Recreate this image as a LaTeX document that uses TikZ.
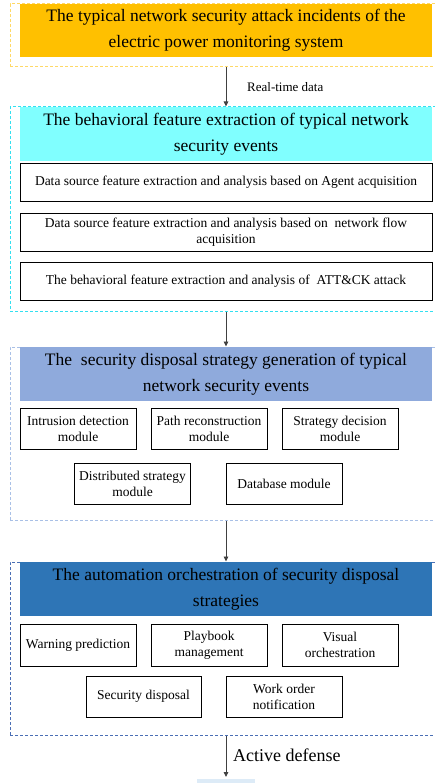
\documentclass[tikz,border=0pt]{standalone}
\usepackage{fontspec}
\setmainfont{Liberation Serif}
\usetikzlibrary{arrows.meta}
\definecolor{hOrange}{HTML}{FFC000}
\definecolor{hCyan}{HTML}{80FFFF}
\definecolor{hLight}{HTML}{8FAADC}
\definecolor{hBlue}{HTML}{2E75B6}
\definecolor{dOrange}{HTML}{FFD966}
\definecolor{dCyan}{HTML}{33E0F0}
\definecolor{dLight}{HTML}{A9C0E6}
\definecolor{dBlue}{HTML}{4A6FB5}
\definecolor{bottomfill}{HTML}{DDEBF7}
\definecolor{arrgray}{HTML}{404040}
\tikzset{
  cont/.style={draw, line width=1pt, minimum width=426pt, inner sep=0pt, dash pattern=on 3pt off 2pt},
  hdr/.style={minimum width=412pt, inner sep=0pt, align=center, font=\fontsize{17.5}{26}\selectfont},
  sub/.style={draw=black, line width=0.8pt, minimum width=412pt, minimum height=38pt, inner sep=0pt, align=center, font=\fontsize{13.5}{15.5}\selectfont},
  modbox/.style={draw=black, line width=0.8pt, minimum width=116pt, minimum height=41pt, inner sep=0pt, align=center, font=\fontsize{13.5}{16}\selectfont},
  arr/.style={draw=arrgray, line width=0.9pt, -{Triangle[length=5pt,width=4.5pt]}},
  lbl/.style={anchor=west, inner sep=0pt}
}
\begin{document}
\begin{tikzpicture}[x=1pt,y=-1pt]
\useasboundingbox (0,0) rectangle (434,783);
% containers
\node[cont, draw=dOrange, minimum height=63pt] (c1) at (223,35.5) {};
\node[cont, draw=dCyan, minimum height=204pt] (c2) at (223,209) {};
\node[cont, draw=dLight, minimum height=173pt] (c3) at (223,433.5) {};
\node[cont, draw=dBlue, minimum height=173pt] (c4) at (223,648.5) {};
% headers
\node[hdr, fill=hOrange, minimum height=53pt] (h1) at (226,30.5) {The typical network security attack incidents of the\\electric power monitoring system};
\node[hdr, fill=hCyan, minimum height=54pt] (h2) at (226,134) {The behavioral feature extraction of typical network\\security events};
\node[hdr, fill=hLight, minimum height=54pt] (h3) at (226,374) {The\ \ security disposal strategy generation of typical\\network security events};
\node[hdr, fill=hBlue, minimum height=54pt] (h4) at (226,589) {The automation orchestration of security disposal\\strategies};
% container 2 boxes
\node[sub] (s1) at (226,182) {Data source feature extraction and analysis based on Agent acquisition};
\node[sub] (s2) at (226,232) {Data source feature extraction and analysis based on\ \ network flow\\acquisition};
\node[sub] (s3) at (226,281) {The behavioral feature extraction and analysis of\ \ ATT\&CK attack};
% container 3 modules
\node[modbox] (m1) at (78,428.5) {Intrusion detection\\module};
\node[modbox] (m2) at (209,428.5) {Path reconstruction\\module};
\node[modbox] (m3) at (340,428.5) {Strategy decision\\module};
\node[modbox] (m4) at (132.5,483.5) {Distributed strategy\\module};
\node[modbox] (m5) at (284,483.5) {Database module};
% container 4 modules
\node[modbox, minimum height=42pt] (o1) at (78,645) {Warning prediction};
\node[modbox, minimum height=42pt] (o2) at (209,645) {Playbook\\management};
\node[modbox, minimum height=42pt] (o3) at (340,645) {Visual\\orchestration};
\node[modbox, minimum width=115pt] (o4) at (143.5,696.5) {Security disposal};
\node[modbox] (o5) at (284,696.5) {Work order\\notification};
% bottom partial box
\node[fill=bottomfill, minimum width=58pt, minimum height=10pt, inner sep=0pt, anchor=north west] (bt) at (197,779) {};
% arrows
\draw[arr] (c1.south -| h1) -- (c2.north -| h1);
\draw[arr] (c2.south -| h1) -- (c3.north -| h1);
\draw[arr] (c3.south -| h1) -- (c4.north -| h1);
\coordinate (endp) at (226,777);
\draw[arr] (c4.south -| h1) -- (endp);
% labels
\node[lbl, font=\fontsize{13}{15}\selectfont] (l1) at (247,87) {Real-time data};
\node[lbl, font=\fontsize{18}{21}\selectfont] (l2) at (233,755) {Active defense};
\end{tikzpicture}
\end{document}
